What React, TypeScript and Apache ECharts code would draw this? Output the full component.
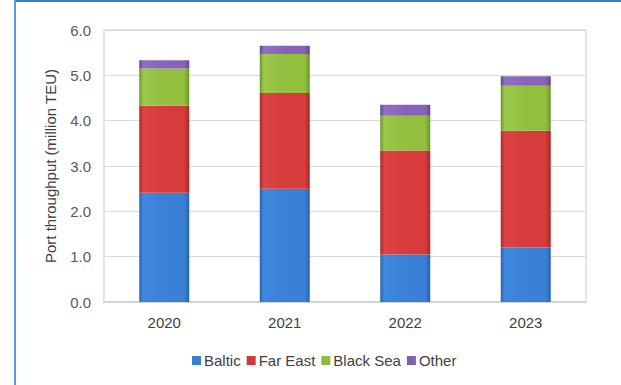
import React, { useEffect, useRef } from "react";
import * as echarts from "echarts";

const years = ["2020", "2021", "2022", "2023"];
const baltic = [2.41, 2.5, 1.05, 1.2];
const farEast = [1.92, 2.11, 2.29, 2.58];
const blackSea = [0.82, 0.86, 0.77, 0.99];
const other = [0.18, 0.18, 0.24, 0.21];

const FONT = "'Liberation Sans', Arial, sans-serif";

// Horizontal shading that gives each bar segment a bevelled look
const shade = (edge: string, mid: string, light: string) =>
  new echarts.graphic.LinearGradient(0, 0, 1, 0, [
    { offset: 0, color: edge },
    { offset: 0.08, color: light },
    { offset: 0.5, color: mid },
    { offset: 0.9, color: mid },
    { offset: 1, color: edge },
  ]);

const seriesDefs = [
  { name: "Baltic", data: baltic, fill: shade("#2a63ad", "#3980d6", "#3f89df"), legend: "#3a7fd3" },
  { name: "Far East", data: farEast, fill: shade("#a82828", "#d73b3b", "#dd4444"), legend: "#d23a3a" },
  { name: "Black Sea", data: blackSea, fill: shade("#6b952a", "#93bf3f", "#9cc84a"), legend: "#8fbb3d" },
  { name: "Other", data: other, fill: shade("#62448f", "#8764b8", "#9070c0"), legend: "#8060b0" },
];

export default function App() {
  const ref = useRef<HTMLDivElement>(null);

  useEffect(() => {
    if (!ref.current) return;
    const chart = echarts.init(ref.current, undefined, { renderer: "svg" });
    chart.setOption({
      animation: false,
      backgroundColor: "#ffffff",
      textStyle: { fontFamily: FONT },
      grid: {
        left: 104,
        top: 30,
        right: 35,
        bottom: 83,
        show: true,
        borderColor: "#dcdcdc",
        borderWidth: 1.5,
      },
      legend: {
        top: 348,
        left: 187,
        itemWidth: 9,
        itemHeight: 9,
        itemGap: 6,
        icon: "rect",
        textStyle: { fontFamily: FONT, fontSize: 15, color: "#404040", padding: [0, 0, 0, -2] },
        data: seriesDefs.map((s) => ({ name: s.name, itemStyle: { color: s.legend } })),
      },
      xAxis: {
        type: "category",
        data: years,
        axisLine: { show: true, lineStyle: { color: "#d0d0d0", width: 1.5 } },
        axisTick: { show: false },
        axisLabel: { fontFamily: FONT, fontSize: 15, color: "#404040", margin: 13 },
      },
      yAxis: {
        type: "value",
        min: 0,
        max: 6,
        interval: 1,
        name: "Port throughput (million TEU)",
        nameLocation: "middle",
        nameGap: 46,
        nameTextStyle: { fontFamily: FONT, fontSize: 15, color: "#404040" },
        axisLine: { show: false },
        axisTick: { show: false },
        axisLabel: {
          fontFamily: FONT,
          fontSize: 15,
          color: "#595959",
          margin: 13,
          formatter: (v: number) => v.toFixed(1),
        },
        splitLine: { lineStyle: { color: "#d9d9d9", width: 1 } },
      },
      series: seriesDefs.map((s) => ({
        name: s.name,
        type: "bar",
        stack: "total",
        barWidth: 50,
        data: s.data,
        itemStyle: { color: s.fill },
      })),
      graphic: [
        {
          type: "line",
          shape: { x1: 14, y1: 1, x2: 621, y2: 1 },
          style: { stroke: "#3b7cc6", lineWidth: 2 },
          z: 100,
        },
        {
          type: "line",
          shape: { x1: 15, y1: 0, x2: 15, y2: 385 },
          style: { stroke: "#5b9bd5", lineWidth: 2 },
          z: 100,
        },
      ],
    });
    return () => chart.dispose();
  }, []);

  return (
    <div
      ref={ref}
      style={{ position: "fixed", left: 0, top: 0, width: 621, height: 385 }}
    />
  );
}
